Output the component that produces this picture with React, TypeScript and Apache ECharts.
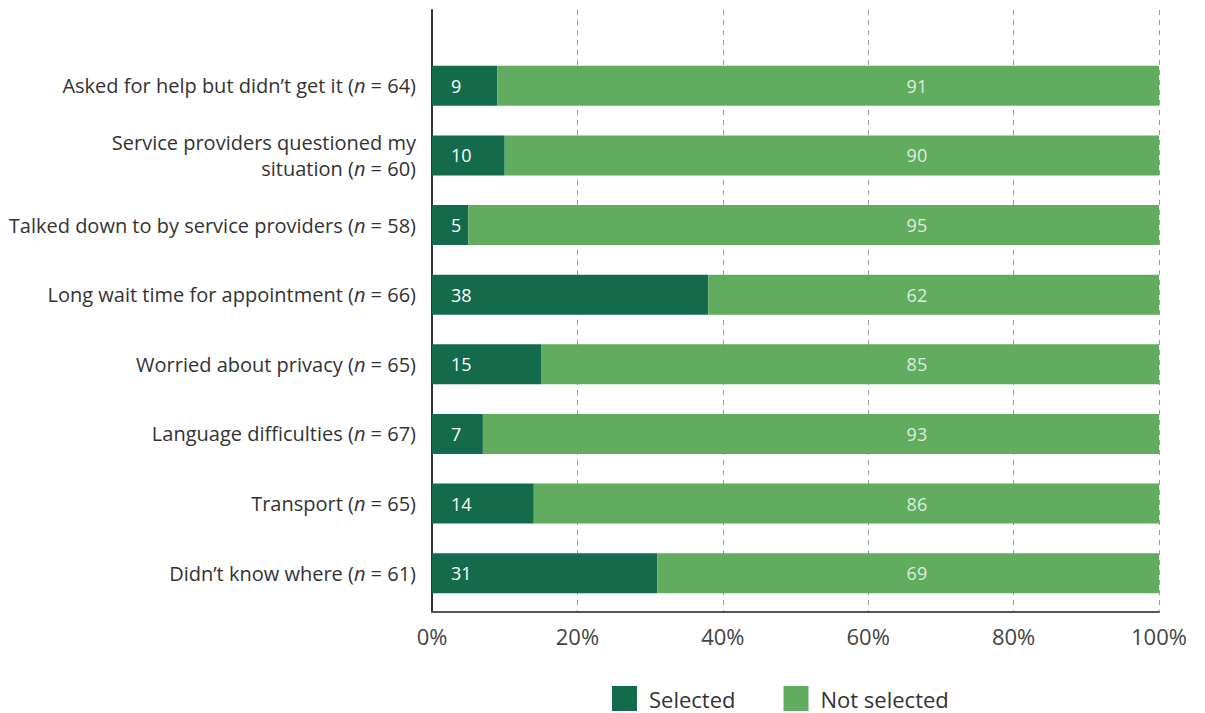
import React, { useEffect, useRef } from "react";
import * as echarts from "echarts";

const categories = [
  "Asked for help but didn’t get it",
  "Service providers questioned my\nsituation",
  "Talked down to by service providers",
  "Long wait time for appointment",
  "Worried about privacy",
  "Language difficulties",
  "Transport",
  "Didn’t know where",
];
const sampleSizes = [64, 60, 58, 66, 65, 67, 65, 61];
const selected = [9, 10, 5, 38, 15, 7, 14, 31];
const notSelected = [91, 90, 95, 62, 85, 93, 86, 69];
const xTicks = [0, 20, 40, 60, 80, 100];
const NOT_SELECTED_LABEL_AT = 66.7;

const FONT = "'Open Sans', sans-serif";
const DARK = "#136b4b";
const LIGHT = "#61ac5f";

export default function App() {
  const ref = useRef<HTMLDivElement>(null);
  useEffect(() => {
    document.body.style.margin = "0";
    const chart = echarts.init(ref.current!, null, { renderer: "svg" });
    chart.setOption({
      animation: false,
      textStyle: { fontFamily: FONT },
      legend: {
        data: ["Selected", "Not selected"],
        left: 607,
        top: 681,
        itemWidth: 25,
        itemHeight: 25,
        itemGap: 48,
        icon: "rect",
        textStyle: { fontSize: 22, color: "#333", fontFamily: FONT, padding: [0, 0, 0, 7] },
      },
      grid: [
        { left: 432, right: 46, top: 10, bottom: 101 },
        { left: 432, right: 46, top: 51, bottom: 105 },
      ],
      xAxis: [
        {
          gridIndex: 0,
          type: "value",
          min: xTicks[0],
          max: xTicks[xTicks.length - 1],
          interval: 20,
          axisLine: { show: true, lineStyle: { color: "#555", width: 2 } },
          axisTick: { show: false },
          splitLine: { show: true, lineStyle: { color: "#9a9a9a", type: [5, 5], width: 1 } },
          axisLabel: {
            formatter: "{value}%",
            fontSize: 22,
            color: "#444",
            margin: 13,
            fontFamily: FONT,
          },
        },
        { gridIndex: 1, type: "value", min: 0, max: 100, show: false },
      ],
      yAxis: [
        {
          gridIndex: 0,
          type: "value",
          min: 0,
          max: 1,
          axisLine: { show: true, lineStyle: { color: "#333", width: 2 } },
          axisTick: { show: false },
          axisLabel: { show: false },
          splitLine: { show: false },
        },
        {
          gridIndex: 1,
          type: "category",
          inverse: true,
          data: categories,
          axisLine: { show: false },
          axisTick: { show: false },
          axisLabel: {
            margin: 16,
            fontSize: 20,
            color: "#333",
            fontFamily: FONT,
            align: "right",
            lineHeight: 26,
            formatter: (value: string, idx: number) =>
              `${value} ({i|n} = ${sampleSizes[idx]})`,
            rich: {
              i: { fontStyle: "italic", fontSize: 20, color: "#333", fontFamily: FONT, lineHeight: 26 },
            },
          },
        },
      ],
      series: [
        {
          name: "Selected",
          type: "bar",
          stack: "total",
          xAxisIndex: 1,
          yAxisIndex: 1,
          barWidth: 40,
          itemStyle: { color: DARK },
          label: {
            show: true,
            position: "insideLeft",
            distance: 19,
            color: "#fff",
            fontSize: 18,
            fontFamily: FONT,
          },
          data: selected,
        },
        {
          name: "Not selected",
          type: "bar",
          stack: "total",
          xAxisIndex: 1,
          yAxisIndex: 1,
          barWidth: 40,
          itemStyle: { color: LIGHT },
          data: notSelected,
        },
        {
          name: "notSelectedLabels",
          type: "scatter",
          xAxisIndex: 1,
          yAxisIndex: 1,
          symbolSize: 0,
          silent: true,
          label: {
            show: true,
            position: "inside",
            color: "#fff",
            fontSize: 18,
            fontFamily: FONT,
            formatter: (p: any) => String(notSelected[p.dataIndex]),
          },
          data: notSelected.map((_, i) => [NOT_SELECTED_LABEL_AT, i]),
        },
      ],
    });
    return () => chart.dispose();
  }, []);
  return <div ref={ref} style={{ width: 1205, height: 713 }} />;
}
